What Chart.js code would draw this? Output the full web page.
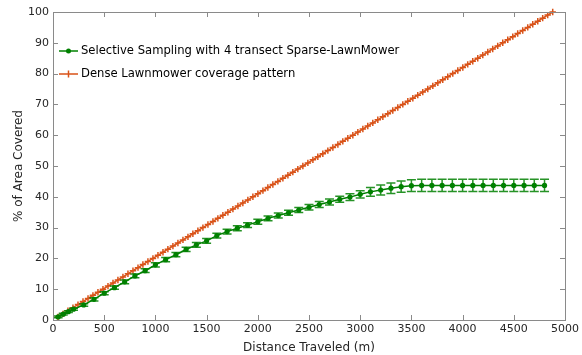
<!DOCTYPE html>
<html>
<head>
<meta charset="utf-8">
<script src="https://cdn.jsdelivr.net/npm/chart.js@4.4.0/dist/chart.umd.min.js"></script>
<style>
html,body{margin:0;padding:0;background:#fff;}
#wrap{width:582px;height:355px;position:relative;}
</style>
</head>
<body>
<div id="wrap"><canvas id="c" width="582" height="355"></canvas></div>
<script>
// ---- data ----
const selectiveX = [50,100,150,200,300,400,500,600,700,800,900,1000,1100,1200,1300,1400,1500,1600,1700,1800,1900,2000,2100,2200,2300,2400,2500,2600,2700,2800,2900,3000,3100,3200,3300,3400,3500,3600,3700,3800,3900,4000,4100,4200,4300,4400,4500,4600,4700,4800];
const selectiveY = [1.0,1.9,2.7,3.5,4.9,6.7,8.7,10.5,12.4,14.3,16.0,17.9,19.6,21.2,22.9,24.4,25.7,27.4,28.7,29.8,30.8,31.9,33.0,33.9,34.8,35.7,36.6,37.5,38.3,39.2,39.9,40.8,41.6,42.2,42.8,43.3,43.6,43.7,43.7,43.7,43.7,43.7,43.7,43.7,43.7,43.7,43.7,43.7,43.7,43.7];
const selectiveErr = [0.3,0.3,0.3,0.3,0.4,0.5,0.5,0.5,0.6,0.6,0.6,0.7,0.7,0.7,0.7,0.8,0.8,0.8,0.8,0.8,0.8,0.8,0.8,0.8,0.8,0.8,0.9,1.0,1.0,1.0,1.1,1.2,1.4,1.6,1.7,1.8,1.9,2.0,2.0,2.0,2.0,2.0,2.0,2.0,2.0,2.0,2.0,2.0,2.0,2.0];
const denseX = [49,98,146,195,244,293,342,390,439,488,537,586,634,683,732,781,830,878,927,976,1025,1074,1122,1171,1220,1269,1318,1366,1415,1464,1513,1562,1610,1659,1708,1757,1806,1854,1903,1952,2001,2050,2098,2147,2196,2245,2294,2342,2391,2440,2489,2538,2586,2635,2684,2733,2782,2830,2879,2928,2977,3026,3074,3123,3172,3221,3270,3318,3367,3416,3465,3514,3562,3611,3660,3709,3758,3806,3855,3904,3953,4002,4050,4099,4148,4197,4246,4294,4343,4392,4441,4490,4538,4587,4636,4685,4734,4782,4831,4880];
const denseY = [1,2,3,4,5,6,7,8,9,10,11,12,13,14,15,16,17,18,19,20,21,22,23,24,25,26,27,28,29,30,31,32,33,34,35,36,37,38,39,40,41,42,43,44,45,46,47,48,49,50,51,52,53,54,55,56,57,58,59,60,61,62,63,64,65,66,67,68,69,70,71,72,73,74,75,76,77,78,79,80,81,82,83,84,85,86,87,88,89,90,91,92,93,94,95,96,97,98,99,100];
const seriesNames = ['Selective Sampling with 4 transect Sparse-LawnMower','Dense Lawnmower coverage pattern'];
const xTitle = 'Distance Traveled (m)';
const yTitle = '% of Area Covered';

const GREEN = '#008000';
const ORANGE = '#D95319';
const AXIS = '#8a8a8a';
const TXT = '#262626';
const FONT = 'DejaVu Sans';

const greenData = selectiveX.map((x,i)=>({x:x,y:selectiveY[i]}));
const orangeData = denseX.map((x,i)=>({x:x,y:denseY[i]}));

const errorBars = {
  id:'errorBars',
  afterDatasetsDraw(chart){
    const ctx = chart.ctx, xs = chart.scales.x, ys = chart.scales.y;
    ctx.save();
    ctx.strokeStyle = 'rgba(0,128,0,0.85)'; ctx.lineWidth = 1.5;
    selectiveX.forEach((x,i)=>{
      const px = xs.getPixelForValue(x);
      const pt = ys.getPixelForValue(selectiveY[i]+selectiveErr[i]);
      const pb = ys.getPixelForValue(selectiveY[i]-selectiveErr[i]);
      ctx.beginPath();
      ctx.moveTo(px,pt); ctx.lineTo(px,pb);
      ctx.moveTo(px-4.5,pt); ctx.lineTo(px+4.5,pt);
      ctx.moveTo(px-4.5,pb); ctx.lineTo(px+4.5,pb);
      ctx.stroke();
    });
    ctx.restore();
  }
};

const boxAndTicks = {
  id:'boxAndTicks',
  afterDraw(chart){
    const ctx = chart.ctx, a = chart.chartArea, xs = chart.scales.x, ys = chart.scales.y;
    ctx.save();
    ctx.strokeStyle = AXIS; ctx.lineWidth = 1;
    ctx.strokeRect(Math.round(a.left)+0.5, Math.round(a.top)+0.5, Math.round(a.right-a.left), Math.round(a.bottom-a.top));
    ctx.beginPath();
    xs.ticks.forEach(t=>{
      const p = Math.round(xs.getPixelForValue(t.value))+0.5;
      ctx.moveTo(p,a.bottom); ctx.lineTo(p,a.bottom-5);
      ctx.moveTo(p,a.top); ctx.lineTo(p,a.top+5);
    });
    ys.ticks.forEach(t=>{
      const p = Math.round(ys.getPixelForValue(t.value))+0.5;
      ctx.moveTo(a.left,p); ctx.lineTo(a.left+5,p);
      ctx.moveTo(a.right,p); ctx.lineTo(a.right-5,p);
    });
    ctx.stroke();
    // legend
    const rows = [51,74];
    ctx.font = '11.6px "'+FONT+'"';
    ctx.textBaseline = 'middle';
    // green
    ctx.strokeStyle = GREEN; ctx.lineWidth = 1.5;
    ctx.beginPath(); ctx.moveTo(59,rows[0]); ctx.lineTo(78,rows[0]); ctx.stroke();
    ctx.fillStyle = GREEN; ctx.beginPath(); ctx.arc(68.5,rows[0],2.5,0,Math.PI*2); ctx.fill();
    // orange
    ctx.strokeStyle = ORANGE; ctx.lineWidth = 1.5;
    ctx.beginPath(); ctx.moveTo(59,rows[1]); ctx.lineTo(78,rows[1]);
    ctx.moveTo(68.5,rows[1]-3.5); ctx.lineTo(68.5,rows[1]+3.5); ctx.stroke();
    ctx.fillStyle = '#000';
    ctx.fillText(seriesNames[0],81,rows[0]);
    ctx.fillText(seriesNames[1],81,rows[1]);
    ctx.restore();
  }
};

new Chart(document.getElementById('c'),{
  type:'line',
  data:{
    datasets:[
      {label:seriesNames[1],data:orangeData,borderColor:ORANGE,backgroundColor:ORANGE,borderWidth:1.5,
       pointStyle:'cross',pointRadius:3.2,pointBorderWidth:1.5,pointBorderColor:ORANGE,clip:false,order:2},
      {label:seriesNames[0],data:greenData,borderColor:GREEN,backgroundColor:GREEN,borderWidth:1.5,
       pointStyle:'circle',pointRadius:2.6,pointBorderWidth:0,pointBackgroundColor:GREEN,clip:false,order:1}
    ]
  },
  options:{
    responsive:false,animation:false,
    layout:{padding:{top:12,right:15,left:0,bottom:0}},
    plugins:{legend:{display:false},tooltip:{enabled:false}},
    elements:{line:{tension:0}},
    scales:{
      x:{type:'linear',min:0,max:5000,
        ticks:{stepSize:500,color:TXT,font:{family:FONT,size:11},padding:3,maxRotation:0,autoSkip:false,
          callback:(v)=>String(v)},
        grid:{display:false,drawTicks:false},border:{display:false},
        title:{display:true,text:xTitle,color:TXT,font:{family:FONT,size:12},padding:{top:2,bottom:0}},
        afterFit(s){s.height=35;}
      },
      y:{type:'linear',min:0,max:100,
        ticks:{stepSize:10,color:TXT,font:{family:FONT,size:11},padding:4,callback:(v)=>String(v)},
        grid:{display:false,drawTicks:false},border:{display:false},
        title:{display:true,text:yTitle,color:TXT,font:{family:FONT,size:12},padding:{top:12,bottom:0}},
        afterFit(s){s.width=53;}
      }
    }
  },
  plugins:[errorBars,boxAndTicks]
});
</script>
</body>
</html>
